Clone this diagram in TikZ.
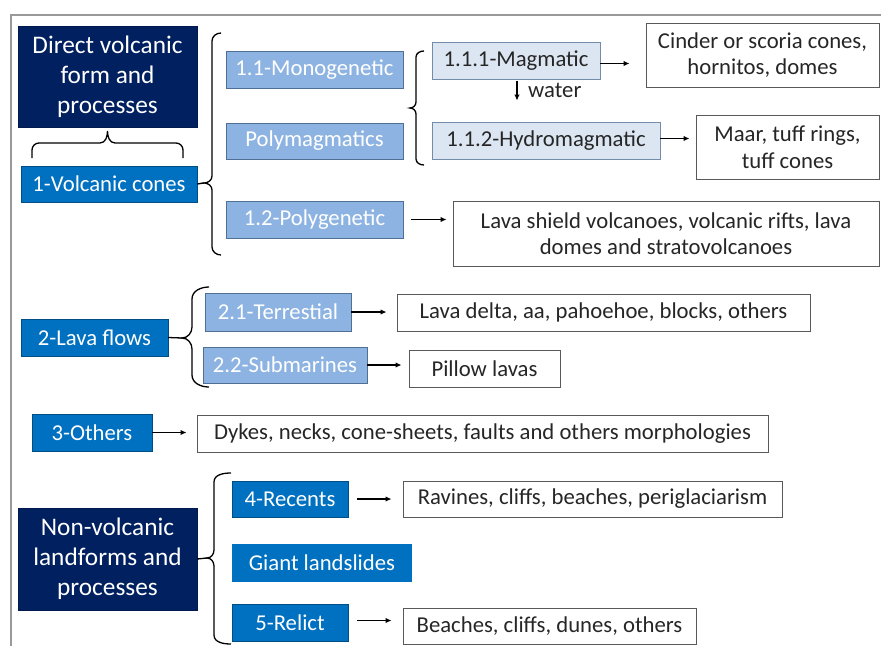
\documentclass[tikz,border=0pt]{standalone}
\usepackage{fontspec}
\setmainfont{Carlito}
\usetikzlibrary{arrows.meta}
\definecolor{navy}{HTML}{002060}
\definecolor{midblue}{HTML}{0070C0}
\definecolor{lightblue}{HTML}{8DB3E2}
\definecolor{paleblue}{HTML}{DCE6F2}
\definecolor{lbborder}{HTML}{4F6F94}
\definecolor{frame}{HTML}{999999}
\begin{document}
\begin{tikzpicture}[x=1pt,y=-1pt,
  base/.style={inner sep=0pt, align=center, font=\fontsize{22.7}{26.5}\selectfont},
  navybox/.style={base, fill=navy, draw=navy!80!black, text=white, font=\fontsize{25.3}{30}\selectfont},
  midbox/.style={base, fill=midblue, draw=midblue!70!black, text=white},
  midnob/.style={base, fill=midblue, text=white},
  lbbox/.style={base, fill=lightblue, draw=lbborder, line width=0.8pt, text=white},
  palebox/.style={base, fill=paleblue, draw=lbborder!80, line width=0.8pt, text=black!85},
  whitebox/.style={base, fill=white, draw=black!65, line width=0.9pt, text=black!85},
  arr/.style={-{Latex[length=6pt,width=5.5pt]}, line width=1.2pt},
  brace/.style={line width=1.3pt, black}
]
\useasboundingbox (0,0) rectangle (881,646);
% frame
\draw[frame, line width=1.5pt] (11,646) -- (11,15) -- (881,15);

% section 1
\node[navybox, minimum width=179, minimum height=101] (dv) at (107.5,76.5) {Direct volcanic\\form and\\processes};
\node[midbox, minimum width=176, minimum height=36] (vc) at (109,184) {1-Volcanic cones};
\node[lbbox, minimum width=177, minimum height=37] (mono) at (314.5,69.5) {1.1-Monogenetic};
\node[lbbox, minimum width=177, minimum height=36] (poly) at (314.5,141) {Polymagmatics};
\node[lbbox, minimum width=177, minimum height=37] (polyg) at (314.5,219.5) {1.2-Polygenetic};
\node[palebox, minimum width=168, minimum height=37] (mag) at (516,60.5) {1.1.1-Magmatic};
\node[palebox, minimum width=228, minimum height=37] (hyd) at (546,140.5) {1.1.2-Hydromagmatic};
\node[whitebox, minimum width=233, minimum height=64] (cinder) at (762.5,55) {Cinder or scoria cones,\\hornitos, domes};
\node[whitebox, minimum width=183, minimum height=64] (maar) at (787.5,147) {Maar, tuff rings,\\tuff cones};
\node[whitebox, minimum width=426, minimum height=65] (lava) at (666,233.5) {Lava shield volcanoes, volcanic rifts, lava\\domes and stratovolcanoes};

% braces section 1
\draw[brace] (32,158) -- (32,150) to[out=90,in=180] (39,143) -- (100,143) to[out=0,in=-90] (107.5,131) to[out=-90,in=180] (115,143) -- (176,143) to[out=0,in=90] (183,150) -- (183,158);
\coordinate (b1) at (204,183);
\draw[brace] (221,33) to[out=180,in=90] (212,41) -- (212,176) to[out=-90,in=0] (b1) to[out=0,in=90] (212,190) -- (212,247) to[out=-90,in=180] (221,255);
\draw[brace] (vc.east) -- (b1);
\draw[brace] (424,51) to[out=180,in=90] (416,57) -- (416,102) to[out=-90,in=0] (410,108) to[out=0,in=90] (416,114) -- (416,159) to[out=-90,in=180] (424,165);

% arrows section 1
\draw[arr, shorten >=16pt] ([yshift=-3]mag.east) -- ([yshift=-3]mag.east -| cinder.west);
\draw[arr, shorten >=6pt] ([yshift=2]hyd.east) -- ([yshift=2]hyd.east -| maar.west);
\draw[arr, shorten <=8pt, shorten >=6pt] (polyg.east) -- (polyg.east -| lava.west);
\coordinate (wtop) at (517,79.5);
\draw[arr, shorten <=1pt, shorten >=21pt] (wtop) -- (wtop |- hyd.north);
\node[base, text=black!85, anchor=west] (water) at (528,90) {water};

% section 2
\node[midbox, minimum width=147, minimum height=37] (lf) at (94.5,337.5) {2-Lava flows};
\node[lbbox, minimum width=146, minimum height=38] (terr) at (278,312) {2.1-Terrestial};
\node[lbbox, minimum width=164, minimum height=36] (sub) at (285,365) {2.2-Submarines};
\node[whitebox, minimum width=413, minimum height=37] (delta) at (603.5,312.5) {Lava delta, aa, pahoehoe, blocks, others};
\node[whitebox, minimum width=151, minimum height=37] (pillow) at (484.5,368.5) {Pillow lavas};
\coordinate (b2) at (182,338);
\draw[brace] (209,287) to[out=180,in=90] (192,299) -- (192,327) to[out=-90,in=0] (b2) to[out=0,in=90] (192,349) -- (192,375) to[out=-90,in=180] (209,387);
\draw[brace] (lf.east) -- (b2);
\draw[arr, shorten >=10pt] (terr.east) -- (terr.east -| delta.west);
\draw[arr, shorten >=7pt] (sub.east) -- (sub.east -| pillow.west);

% section 3
\node[midbox, minimum width=120, minimum height=37] (oth) at (92,432.5) {3-Others};
\node[whitebox, minimum width=571, minimum height=37] (dykes) at (482.5,433.5) {Dykes, necks, cone-sheets, faults and others morphologies};
\draw[arr, shorten >=10pt] (oth.east) -- (oth.east -| dykes.west);

% section 4
\node[navybox, minimum width=179, minimum height=102] (nv) at (107.5,559) {Non-volcanic\\landforms and\\processes};
\node[midbox, minimum width=116, minimum height=36] (rec) at (290,499) {4-Recents};
\node[midnob, minimum width=180, minimum height=38] (giant) at (322,563) {Giant landslides};
\node[midbox, minimum width=116, minimum height=37] (rel) at (290,622.5) {5-Relict};
\node[whitebox, minimum width=379, minimum height=36] (rav) at (592.5,499) {Ravines, cliffs, beaches, periglaciarism};
\node[whitebox, minimum width=293, minimum height=36] (bea) at (549.5,626) {Beaches, cliffs, dunes, others};
\coordinate (b4) at (207,558);
\draw[brace] (231,473) to[out=180,in=90] (214,482) -- (214,550) to[out=-90,in=0] (b4) to[out=0,in=90] (214,566) -- (214,635) to[out=-90,in=180] (231,644);
\draw[brace] (nv.east) -- (b4);
\draw[arr, shorten <=9pt, shorten >=11pt] (rec.east) -- (rec.east -| rav.west);
\draw[arr, shorten <=9pt, shorten >=11pt] ([yshift=2]rel.east) -- ([yshift=2]rel.east -| bea.west);
\end{tikzpicture}
\end{document}
